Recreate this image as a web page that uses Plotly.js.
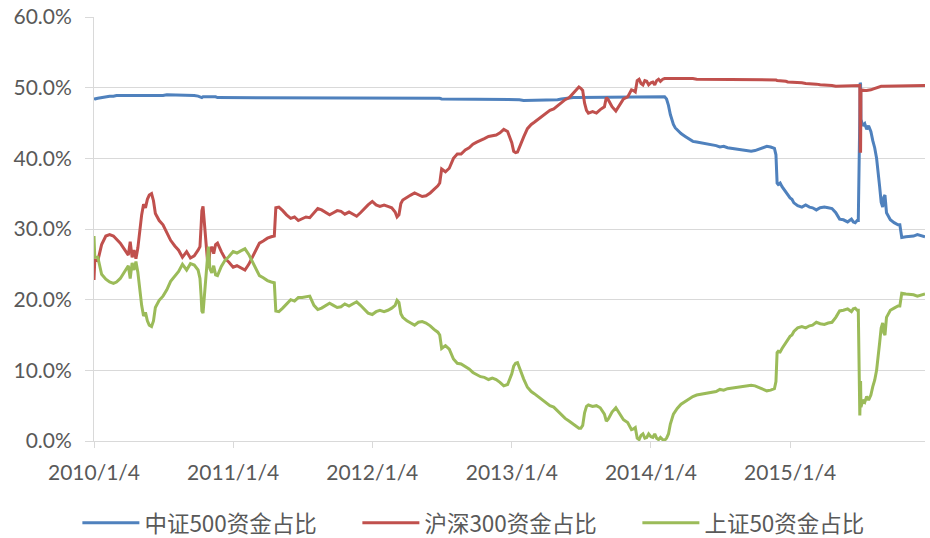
<!DOCTYPE html>
<html><head><meta charset="utf-8">
<script src="https://cdn.plot.ly/plotly-3.0.1.min.js"></script>
<style>html,body{margin:0;padding:0;background:#fff}#chart{width:930px;height:538px}</style>
</head><body><div id="chart"></div>
<script>
const seriesNames = ["中证500资金占比", "沪深300资金占比", "上证50资金占比"];
const tickDates = ["2010-01-04","2011-01-04","2012-01-04","2013-01-04","2014-01-04","2015-01-04"];
const tickLabels = ["2010/1/4","2011/1/4","2012/1/4","2013/1/4","2014/1/4","2015/1/4"];

const dates = [
 "2010-01-04","2010-01-06","2010-01-14","2010-01-24","2010-02-04","2010-02-14","2010-02-24","2010-03-04","2010-03-14","2010-03-24","2010-04-04","2010-04-09","2010-04-14","2010-04-19","2010-04-24","2010-04-29","2010-05-04","2010-05-09","2010-05-14","2010-05-19","2010-05-24","2010-05-29","2010-06-04","2010-06-09","2010-06-14","2010-06-24","2010-07-04","2010-07-14","2010-07-24","2010-08-04","2010-08-14","2010-08-24","2010-09-04","2010-09-14","2010-09-24","2010-10-04","2010-10-09","2010-10-12","2010-10-14","2010-10-17","2010-10-20","2010-10-24","2010-10-28","2010-10-31","2010-11-04","2010-11-09","2010-11-14","2010-11-19","2010-11-24","2010-12-04","2010-12-14","2010-12-24",
 "2011-01-04","2011-01-14","2011-01-24","2011-02-04","2011-02-14","2011-02-24","2011-03-04","2011-03-14","2011-03-24","2011-04-04","2011-04-14","2011-04-22","2011-04-26","2011-05-04","2011-05-14","2011-05-24","2011-06-04","2011-06-14","2011-06-24","2011-07-04","2011-07-14","2011-07-24","2011-08-04","2011-08-14","2011-08-24","2011-09-04","2011-09-14","2011-09-24","2011-10-04","2011-10-14","2011-10-24","2011-11-04","2011-11-14","2011-11-24","2011-12-04","2011-12-14","2011-12-24",
 "2012-01-04","2012-01-14","2012-01-24","2012-02-04","2012-02-14","2012-02-24","2012-03-04","2012-03-09","2012-03-14","2012-03-19","2012-03-24","2012-04-04","2012-04-14","2012-04-24","2012-05-04","2012-05-14","2012-05-24","2012-06-04","2012-06-14","2012-06-24","2012-06-29","2012-07-04","2012-07-14","2012-07-24","2012-08-04","2012-08-14","2012-08-24","2012-09-04","2012-09-14","2012-09-24","2012-10-04","2012-10-14","2012-10-24","2012-11-04","2012-11-14","2012-11-24","2012-12-04","2012-12-14","2012-12-24",
 "2013-01-04","2013-01-09","2013-01-14","2013-01-19","2013-01-24","2013-02-04","2013-02-14","2013-02-24","2013-03-04","2013-03-14","2013-03-24","2013-04-04","2013-04-14","2013-04-24","2013-05-04","2013-05-14","2013-05-24","2013-06-04","2013-06-14","2013-06-24","2013-06-29","2013-07-04","2013-07-09","2013-07-14","2013-07-19","2013-07-24","2013-08-04","2013-08-14","2013-08-24","2013-09-04","2013-09-09","2013-09-14","2013-09-24","2013-10-04","2013-10-14","2013-10-24","2013-11-04","2013-11-14","2013-11-19","2013-11-24","2013-11-29","2013-12-04","2013-12-09","2013-12-14","2013-12-19","2013-12-24","2013-12-29",
 "2014-01-04","2014-01-09","2014-01-14","2014-01-19","2014-01-24","2014-01-29","2014-02-04","2014-02-09","2014-02-14","2014-02-19","2014-02-24","2014-03-04","2014-03-09","2014-03-14","2014-03-24","2014-04-04","2014-04-14","2014-04-24","2014-05-04","2014-05-14","2014-05-24","2014-06-04","2014-06-14","2014-06-24","2014-07-04","2014-07-14","2014-07-24","2014-08-04","2014-08-14","2014-08-24","2014-09-04","2014-09-14","2014-09-24","2014-10-04","2014-10-14","2014-10-24","2014-11-04","2014-11-14","2014-11-24","2014-11-28","2014-12-01","2014-12-04","2014-12-09","2014-12-14","2014-12-19","2014-12-24","2014-12-29",
 "2015-01-04","2015-01-09","2015-01-14","2015-01-24","2015-02-04","2015-02-14","2015-02-24","2015-03-04","2015-03-14","2015-03-24","2015-04-04","2015-04-14","2015-04-24","2015-05-04","2015-05-14","2015-05-24","2015-06-04","2015-06-09","2015-06-14","2015-06-19","2015-06-24","2015-06-29","2015-07-02","2015-07-06","2015-07-07","2015-07-08","2015-07-09","2015-07-14","2015-07-19","2015-07-24","2015-07-29","2015-08-04","2015-08-09","2015-08-14","2015-08-19","2015-08-24","2015-08-27","2015-08-31","2015-09-04","2015-09-07","2015-09-10","2015-09-14","2015-09-24","2015-10-04","2015-10-14","2015-10-19","2015-10-24","2015-11-04","2015-11-14","2015-11-24","2015-12-04","2015-12-14","2015-12-24"
];

// 中证500资金占比 (%)
const csi500Share = [
 48.3,48.4,48.5,48.6,48.7,48.8,48.8,48.9,48.9,48.9,48.9,48.8,48.8,48.8,48.8,48.8,48.8,48.8,48.8,48.8,48.8,48.9,48.9,48.9,48.9,48.9,48.9,49.0,49.0,49.0,49.0,49.0,49.0,49.0,48.9,48.8,48.7,48.6,48.6,48.7,48.7,48.7,48.8,48.8,48.8,48.7,48.7,48.7,48.6,48.6,48.6,48.6,
 48.6,48.6,48.6,48.6,48.6,48.6,48.6,48.6,48.6,48.6,48.6,48.6,48.6,48.6,48.6,48.6,48.6,48.6,48.6,48.5,48.5,48.5,48.5,48.5,48.5,48.5,48.5,48.5,48.5,48.5,48.5,48.5,48.5,48.5,48.5,48.5,48.5,
 48.5,48.5,48.5,48.5,48.5,48.5,48.5,48.5,48.5,48.5,48.5,48.5,48.5,48.5,48.5,48.5,48.5,48.5,48.5,48.5,48.5,48.4,48.4,48.4,48.4,48.4,48.4,48.4,48.4,48.4,48.4,48.4,48.4,48.4,48.4,48.4,48.4,48.4,48.4,
 48.3,48.3,48.3,48.3,48.3,48.2,48.2,48.2,48.2,48.2,48.2,48.2,48.2,48.2,48.3,48.4,48.5,48.6,48.6,48.6,48.6,48.6,48.6,48.6,48.6,48.6,48.6,48.6,48.6,48.6,48.6,48.6,48.6,48.6,48.6,48.6,48.7,48.7,48.7,48.7,48.7,48.7,48.7,48.7,48.7,48.7,48.7,
 48.7,48.7,48.7,48.7,48.7,48.7,48.7,48.7,48.4,47.5,46.2,44.8,44.3,44.0,43.5,43.1,42.7,42.4,42.3,42.2,42.2,42.0,41.9,41.8,41.6,41.7,41.5,41.4,41.3,41.3,41.2,41.1,41.0,41.1,41.3,41.5,41.7,41.6,41.4,40.5,36.5,36.3,36.5,36.0,35.6,35.2,34.8,
 34.4,34.2,33.7,33.3,33.1,33.4,33.1,33.0,32.7,33.0,33.1,33.0,32.9,32.3,31.4,31.3,31.0,31.2,31.4,31.0,30.9,31.2,31.2,46.0,50.7,50.5,45.5,44.6,44.9,44.1,44.6,43.8,42.5,41.5,40.0,37.8,36.0,33.8,33.1,34.5,34.8,32.3,31.3,30.9,30.6,30.6,28.8,28.9,28.9,29.0,29.2,29.1,28.9
];

// 沪深300资金占比 (%)
const hs300Share = [
 22.8,25.6,25.5,27.8,29.0,29.2,29.0,28.6,28.0,27.2,26.3,28.2,26.0,27.0,25.8,27.3,30.0,32.0,33.5,33.0,34.2,34.8,35.0,34.0,32.2,31.2,30.6,29.6,28.4,27.6,27.0,26.0,26.8,25.9,26.2,27.0,27.5,30.5,32.6,33.2,31.0,28.5,26.0,24.5,26.8,27.5,26.5,27.8,28.0,26.8,25.8,25.3,
 24.6,24.8,24.5,24.2,25.0,26.0,27.0,28.0,28.3,28.7,28.9,29.0,33.0,33.1,32.6,32.0,31.5,31.7,31.2,31.4,31.7,31.6,32.3,32.9,32.7,32.3,32.0,32.3,32.6,32.5,32.1,32.4,32.1,31.8,32.3,32.9,33.4,
 33.9,33.4,33.2,33.4,33.2,33.0,32.4,31.7,32.0,33.6,34.1,34.5,34.8,35.1,34.8,34.6,34.7,35.1,35.6,36.1,36.5,38.5,38.1,38.6,40.0,40.6,40.6,41.2,41.5,42.0,42.3,42.6,42.8,43.1,43.2,43.3,43.6,44.1,43.8,
 42.2,41.0,40.8,40.9,41.6,43.0,44.2,44.8,45.1,45.5,45.9,46.3,46.8,47.0,47.4,47.8,48.3,48.6,49.2,49.8,50.1,49.9,49.6,47.8,46.8,46.4,46.6,46.4,46.9,47.3,48.6,48.3,47.3,46.7,47.5,48.4,48.7,49.7,49.6,49.4,51.0,51.2,50.6,50.4,51.0,50.9,50.4,
 50.7,50.8,50.4,51.0,51.2,50.9,51.2,51.3,51.3,51.4,51.4,51.4,51.4,51.4,51.3,51.3,51.3,51.3,51.2,51.2,51.2,51.2,51.2,51.2,51.1,51.1,51.1,51.1,51.1,51.1,51.1,51.1,51.1,51.1,51.1,51.1,51.2,51.2,51.2,51.1,51.0,51.0,50.9,50.9,50.9,50.9,50.8,
 50.8,50.8,50.8,50.7,50.7,50.6,50.6,50.6,50.5,50.4,50.4,50.3,50.3,50.2,50.2,50.2,50.3,50.3,50.3,50.3,50.3,50.3,50.3,50.3,41.0,41.0,49.7,49.6,49.6,49.6,49.6,49.7,49.8,49.9,50.0,50.1,50.1,50.2,50.2,50.2,50.2,50.2,50.2,50.3,50.3,50.3,50.3,50.3,50.3,50.3,50.3,50.3,50.3
];

// 上证50资金占比 (%)
const sz50Share = [
 29.0,26.0,26.0,23.6,22.9,22.5,22.3,22.5,23.0,23.9,24.8,23.0,25.2,24.2,25.4,23.9,21.2,19.2,17.7,18.2,17.0,16.4,16.2,17.0,18.9,19.9,20.5,21.4,22.6,23.4,24.0,25.0,24.2,25.1,24.9,24.2,23.0,20.5,18.4,18.1,20.2,22.6,25.2,27.5,24.4,23.8,24.8,23.5,23.4,24.7,25.6,26.1,
 26.8,26.6,26.9,27.2,26.4,25.4,24.4,23.4,23.1,22.7,22.5,22.4,18.4,18.3,18.8,19.4,20.0,19.8,20.3,20.3,20.4,20.5,19.2,18.6,18.8,19.2,19.5,19.2,18.9,19.0,19.4,19.1,19.4,19.7,19.2,18.6,18.1,
 17.9,18.3,18.5,18.3,18.5,18.8,19.2,19.9,19.6,18.0,17.5,17.0,16.7,16.4,16.8,16.9,16.7,16.3,15.8,15.4,15.0,13.1,13.5,13.0,11.6,11.0,10.9,10.5,10.2,9.7,9.4,9.1,9.0,8.7,8.9,8.7,8.3,7.8,8.0,
 9.5,10.6,11.0,11.1,10.3,8.8,7.6,7.0,6.7,6.3,5.9,5.5,5.0,4.8,4.3,3.8,3.2,2.8,2.4,1.9,1.8,1.8,2.2,4.0,4.9,5.1,4.9,5.0,4.7,3.8,2.8,3.1,4.1,4.7,3.9,3.0,2.6,1.6,1.7,1.9,0.4,0.2,0.8,1.0,0.4,0.5,1.0,
 0.6,0.5,1.0,0.4,0.2,0.5,0.2,0.1,0.4,1.0,2.4,3.8,4.3,4.6,5.2,5.6,6.0,6.3,6.5,6.6,6.6,6.8,6.9,7.0,7.3,7.2,7.4,7.5,7.6,7.6,7.7,7.8,7.9,7.8,7.6,7.4,7.1,7.2,7.4,8.4,12.5,12.7,12.6,13.1,13.5,13.9,14.4,
 14.8,15.0,15.5,16.0,16.2,16.0,16.3,16.4,16.8,16.6,16.5,16.7,16.8,17.5,18.4,18.5,18.7,18.5,18.3,18.7,18.8,18.5,18.5,3.6,8.3,8.5,4.8,5.8,5.5,6.3,5.8,6.5,7.7,8.6,10.0,12.1,13.9,16.0,16.7,15.3,15.0,17.5,18.5,18.8,19.1,19.1,20.9,20.8,20.8,20.7,20.5,20.6,20.8
];

[csi500Share, hs300Share, sz50Share].forEach(function (s, i) {
  if (s.length !== dates.length) throw new Error('length mismatch series ' + i + ': ' + s.length + ' vs ' + dates.length);
});

const seriesValues = [csi500Share, hs300Share, sz50Share];
const seriesColors = ['#4F81BD', '#C0504D', '#9BBB59'];

const traces = seriesValues.map(function (vals, i) {
  return {
    x: dates, y: vals, name: seriesNames[i], type: 'scatter', mode: 'lines',
    line: {color: seriesColors[i], width: 3}, hoverinfo: 'skip'
  };
});

const layout = {
  width: 930, height: 538,
  margin: {l: 94, r: 5, t: 17, b: 97, autoexpand: false},
  paper_bgcolor: '#ffffff', plot_bgcolor: '#ffffff',
  font: {family: 'Lato, "Noto Sans CJK SC", sans-serif', color: '#595959', size: 21},
  xaxis: {
    type: 'date', range: ['2010-01-04', '2015-12-24'], automargin: false,
    tickmode: 'array', tickvals: tickDates, ticktext: tickLabels,
    ticks: 'outside', ticklen: 6, tickwidth: 1, tickcolor: '#D9D9D9',
    ticklabelstandoff: 7,
    showline: true, linecolor: '#D9D9D9', linewidth: 1,
    showgrid: false, zeroline: false,
    tickfont: {family: 'Lato, sans-serif', size: 21, color: '#595959'}
  },
  yaxis: {
    range: [0, 60], tick0: 0, dtick: 10, tickformat: '.1f', ticksuffix: '%', automargin: false,
    ticks: 'outside', ticklen: 8, tickwidth: 1, tickcolor: '#D9D9D9',
    ticklabelstandoff: 9,
    showline: true, linecolor: '#D9D9D9', linewidth: 1,
    showgrid: true, gridcolor: '#D9D9D9', gridwidth: 1, zeroline: false,
    tickfont: {family: 'Lato, sans-serif', size: 21, color: '#595959'}
  },
  showlegend: true,
  legend: {
    orientation: 'h', xref: 'paper', x: -0.02, xanchor: 'left',
    yref: 'paper', y: -0.143, yanchor: 'top',
    font: {family: '"Noto Sans CJK SC", sans-serif', size: 22.5, color: '#595959'},
    itemwidth: 57, entrywidth: 208, entrywidthmode: 'pixels', bgcolor: 'rgba(0,0,0,0)'
  }
};

Plotly.newPlot('chart', traces, layout, {displayModeBar: false, staticPlot: true});
</script>
</body></html>
